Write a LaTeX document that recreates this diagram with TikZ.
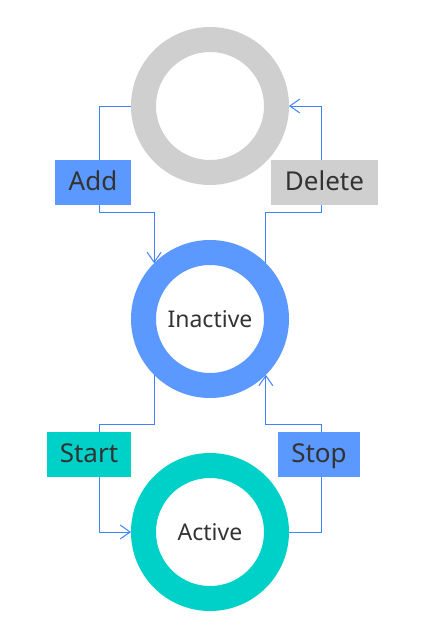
\documentclass[tikz,border=0pt]{standalone}
\usepackage{fontspec}
\setmainfont{Noto Sans}
\usetikzlibrary{arrows.meta,positioning}
\definecolor{ringgray}{HTML}{D0CFCF}
\definecolor{ringblue}{HTML}{5B98FF}
\definecolor{ringteal}{HTML}{00D1C8}
\definecolor{linkblue}{HTML}{3D82FF}
\definecolor{txt}{HTML}{333333}

\begin{document}
\begin{tikzpicture}[x=1pt,y=-1pt,>={Straight Barb[length=10pt,width=14pt]},
node distance=213pt,text=txt,
state/.style={circle,line width=25pt,minimum size=133pt,inner sep=0pt,font=\fontsize{23}{27}\selectfont},
label box/.style={rectangle,minimum height=45pt,inner sep=0pt,text height=21pt,text depth=5pt,font=\fontsize{26}{30}\selectfont},
link/.style={draw=linkblue,line width=1pt}]
\useasboundingbox (0,0) rectangle (426,626);

\node[state,draw=ringgray] (top) at (210,106) {};
\node[state,draw=ringblue] (inact) [below of=top] {Inactive};
\node[state,draw=ringteal] (active) [below of=inact] {Active};

\node[label box,fill=ringblue,minimum width=76pt] (add) at (93,182.5) {Add};
\node[label box,fill=ringgray,minimum width=107pt] (delete) at (324.5,182.5) {Delete};
\node[label box,fill=ringteal,minimum width=84pt] (start) at (89,454.5) {Start};
\node[label box,fill=ringblue,minimum width=82pt] (stop) at (319,454.5) {Stop};

\coordinate (lx) at (99,0);
\coordinate (rx) at (321,0);

% add / delete
\draw[link] (top.west) -| (add.north -| lx);
\draw[link,->] (add.south -| lx) -- ++(0,7) -| (inact.135);
\draw[link] (delete.south -| rx) -- ++(0,7) -| (inact.45);
\draw[link,->] (delete.north -| rx) |- (top.east);
% start / stop
\draw[link] (start.north -| lx) -- ++(0,-7) -| (inact.225);
\draw[link,->] (start.south -| lx) |- (active.west);
\draw[link] (active.east) -| (stop.south -| rx);
\draw[link,->] (stop.north -| rx) -- ++(0,-7) -| (inact.315);
\end{tikzpicture}
\end{document}
